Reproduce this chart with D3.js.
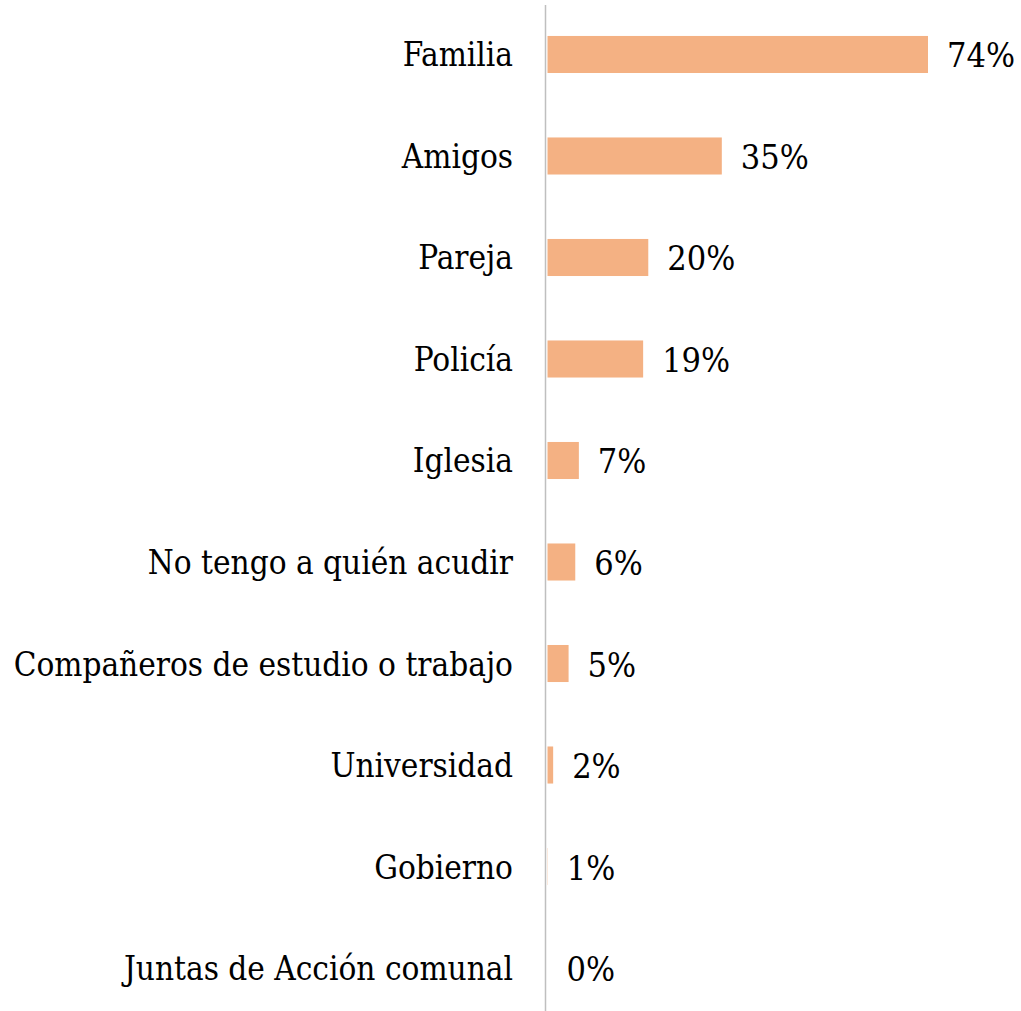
<!DOCTYPE html>
<html>
<head>
<meta charset="utf-8">
<script src="https://cdn.jsdelivr.net/npm/d3@7"></script>
<style>
  body { margin: 0; background: #fff; }
  text { font-family: "DejaVu Serif Condensed", "DejaVu Serif", serif; font-stretch: condensed; fill: #000; }
</style>
</head>
<body>
<div id="chart"></div>
<script>
// categories top to bottom
var categories = ["Familia", "Amigos", "Pareja", "Policía", "Iglesia",
    "No tengo a quién acudir", "Compañeros de estudio o trabajo",
    "Universidad", "Gobierno", "Juntas de Acción comunal"];
// bar values (percent)
var values = [74, 33.9, 19.6, 18.6, 6.1, 5.4, 4.1, 1.1, 0.05, 0];
// printed data labels
var valueLabels = ["74%", "35%", "20%", "19%", "7%", "6%", "5%", "2%", "1%", "0%"];

var width = 1021, height = 1011;
var axisX = 547.5;

var svg = d3.select("#chart").append("svg")
    .attr("width", width)
    .attr("height", height);

var x = d3.scaleLinear()
    .domain([0, 74])
    .range([axisX, 928]);

var y = d3.scaleBand()
    .domain(categories)
    .range([5, 1017.5])
    .paddingInner(0.635)
    .paddingOuter(0.305);

var rows = categories.map(function(c, i) {
    return { cat: c, val: values[i], lbl: valueLabels[i] };
});

svg.selectAll("rect.bar")
    .data(rows)
    .enter().append("rect")
    .attr("class", "bar")
    .attr("x", x(0))
    .attr("y", function(d) { return y(d.cat); })
    .attr("width", function(d) { return x(d.val) - x(0); })
    .attr("height", y.bandwidth())
    .attr("fill", "#F4B183");

// vertical category axis line
svg.append("line")
    .attr("x1", axisX - 2).attr("x2", axisX - 2)
    .attr("y1", 5).attr("y2", height)
    .attr("stroke", "#BFBFBF")
    .attr("stroke-width", 1.5);

svg.selectAll("text.cat")
    .data(rows)
    .enter().append("text")
    .attr("class", "cat")
    .attr("x", 513)
    .attr("y", function(d) { return y(d.cat) + y.bandwidth() / 2 + 12; })
    .attr("text-anchor", "end")
    .style("font-size", "33px")
    .text(function(d) { return d.cat; });

svg.selectAll("text.val")
    .data(rows)
    .enter().append("text")
    .attr("class", "val")
    .attr("x", function(d) { return x(d.val) + 19; })
    .attr("y", function(d) { return y(d.cat) + y.bandwidth() / 2 + 13; })
    .style("font-size", "34px")
    .text(function(d) { return d.lbl; });
</script>
</body>
</html>
